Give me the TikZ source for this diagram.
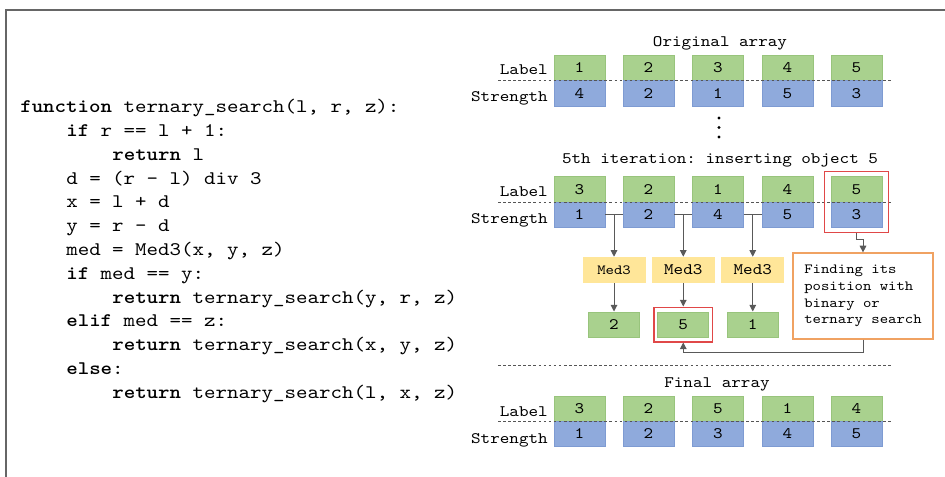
\documentclass[tikz,border=0pt]{standalone}
\usepackage{fontspec}
\newfontfamily\mono[Extension=.otf, UprightFont=lmmono10-regular, BoldFont=lmmonolt10-bold, FakeStretch=1.14]{lmmono10-regular}
\usetikzlibrary{arrows.meta,fit,calc}
\definecolor{gL}{HTML}{A9D18E}
\definecolor{gLd}{HTML}{98C47C}
\definecolor{bS}{HTML}{8FAADC}
\definecolor{bSd}{HTML}{7E9BD2}
\definecolor{yM}{HTML}{FFE699}
\definecolor{oB}{HTML}{F0A262}
\definecolor{rB}{HTML}{E04848}
\definecolor{lineg}{HTML}{595959}
\definecolor{frameg}{HTML}{666666}
\definecolor{dotg}{HTML}{555555}
\frenchspacing
\begin{document}
\frenchspacing
\begin{tikzpicture}[x=0.75pt,y=-0.75pt,
  codeline/.style={anchor=base west, inner sep=0pt, font=\mono\frenchspacing\fontsize{14.4}{17}\selectfont},
  txt/.style={inner sep=0pt, font=\mono\frenchspacing\fontsize{12}{14}\selectfont},
  rowlab/.style={anchor=base east, inner sep=0pt, font=\mono\fontsize{12}{14}\selectfont},
  cellL/.style={fill=gL, draw=gLd, line width=0.4pt, minimum width=38.25pt, minimum height=19.1pt, inner sep=0pt, font=\mono\fontsize{12}{14}\selectfont},
  cellS/.style={fill=bS, draw=bSd, line width=0.4pt, minimum width=38.25pt, minimum height=19.1pt, inner sep=0pt, font=\mono\fontsize{12}{14}\selectfont},
  medbox/.style={fill=yM, minimum width=47.25pt, minimum height=19.5pt, inner sep=0pt, font=\mono\fontsize{12}{14}\selectfont},
  rbox/.style={draw=rB, line width=0.9pt},
  obox/.style={draw=oB, line width=0.9pt, fill=white, align=left, minimum width=105pt, minimum height=64.5pt, font=\mono\fontsize{10.5}{12.5}\selectfont},
  conn/.style={draw=lineg, line width=0.75pt},
  arr/.style={conn, -{Triangle[length=5pt,width=5pt]}},
  dotline/.style={draw=dotg, line width=0.6pt, dash pattern=on 2pt off 1.8pt},
  frameline/.style={draw=frameg, line width=1.5pt}
]
\useasboundingbox (0,0) rectangle (945,477);
% frame
\draw[frameline] (6,477) -- (6,10) -- (945,10);

% code
\node[codeline] (c1) at (20,113) {\textbf{function} ternary\_search(l, r, z):};
\node[codeline] (c2) at (66,136.75) {\textbf{if} r == l + 1:};
\node[codeline] (c3) at (112,160.5) {\textbf{return} l};
\node[codeline] (c4) at (66,184.25) {d = (r - l) div 3};
\node[codeline] (c5) at (66,208) {x = l + d};
\node[codeline] (c6) at (66,231.75) {y = r - d};
\node[codeline] (c7) at (66,255.5) {med = Med3(x, y, z)};
\node[codeline] (c8) at (66,279.25) {\textbf{if} med == y:};
\node[codeline] (c9) at (112,303) {\textbf{return} ternary\_search(y, r, z)};
\node[codeline] (c10) at (66,326.75) {\textbf{elif} med == z:};
\node[codeline] (c11) at (112,350.5) {\textbf{return} ternary\_search(x, y, z)};
\node[codeline] (c12) at (66,374.25) {\textbf{else}:};
\node[codeline] (c13) at (112,398) {\textbf{return} ternary\_search(l, x, z)};

% original array
\node[txt] (t1) at (720,43) {Original array};
\node[rowlab] (l1) at (548,75) {Label};
\node[rowlab] (s1) at (548,102) {Strength};
\foreach \x/\l/\s [count=\i] in {579.5/1/4, 648.5/2/2, 718/3/1, 787.5/4/5, 856.5/5/3} {
  \node[cellL] (oL\i) at (\x,67.75) {\l};
  \node[cellS] (oS\i) at (\x,93.25) {\s};
}
\draw[dotline] (498,80.5) -- (892,80.5);

% dots
\fill[black] (719,118) circle (1.7) (719,127.5) circle (1.7) (719,137) circle (1.7);

% 5th iteration
\node[txt] (t2) at (720,160) {5th iteration: inserting object 5};
\node[rowlab] (l2) at (548,196.5) {Label};
\node[rowlab] (s2) at (548,223.5) {Strength};
\foreach \x/\l/\s [count=\i] in {579.5/3/1, 648.5/2/2, 718/1/4, 787.5/4/5, 856.5/5/3} {
  \node[cellL] (tL\i) at (\x,189.25) {\l};
  \node[cellS] (tS\i) at (\x,214.75) {\s};
}
\draw[dotline] (498,202) -- (892,202);
\node[rbox, fit=(tL5)(tS5), inner xsep=4.6pt, inner ysep=3.6pt] (rb1) {};

% med3 boxes
\node[medbox, font=\mono\fontsize{10.5}{12}\selectfont] (m1) at (614,270) {Med3};
\node[medbox] (m2) at (683.25,270) {Med3};
\node[medbox] (m3) at (752.75,270) {Med3};

% results
\node[cellL] (r1) at (614,324.5) {2};
\node[cellL] (r2) at (683.25,324.5) {5};
\node[cellL] (r3) at (752.75,324.5) {1};
\node[rbox, fit=(r2), inner xsep=2.6pt, inner ysep=3.3pt] (rb2) {};

% orange box
\node[obox] (ob) at (863,296) {Finding its\\position with\\binary or\\ternary search};

% connectors
\draw[conn] (tS1.east) -- (tS2.west);
\draw[conn] (tS2.east) -- (tS3.west);
\draw[conn] (tS3.east) -- (tS4.west);
\draw[arr] (m1.north |- tS1.east) -- (m1.north);
\draw[arr] (m2.north |- tS2.east) -- (m2.north);
\draw[arr] (m3.north |- tS3.east) -- (m3.north);
\draw[arr] (m1.south) -- (r1.north);
\draw[arr] (m2.south) -- (rb2.north);
\draw[arr] (m3.south) -- (r3.north);
\draw[arr] (rb1.south) -- ++(0,6) -| (ob.north);
\draw[arr] (ob.south) -- ++(0,13) -| (rb2.south);

% separator
\draw[dotline] (498,365) -- (892,365);

% final array
\node[txt] (t3) at (717,384) {Final array};
\node[rowlab] (l3) at (548,416) {Label};
\node[rowlab] (s3) at (548,443) {Strength};
\foreach \x/\l/\s [count=\i] in {579.5/3/1, 648.5/2/2, 718/5/3, 787.5/1/4, 856.5/4/5} {
  \node[cellL] (fL\i) at (\x,408.5) {\l};
  \node[cellS] (fS\i) at (\x,434) {\s};
}
\draw[dotline] (498,421) -- (892,421);
\end{tikzpicture}
\end{document}
